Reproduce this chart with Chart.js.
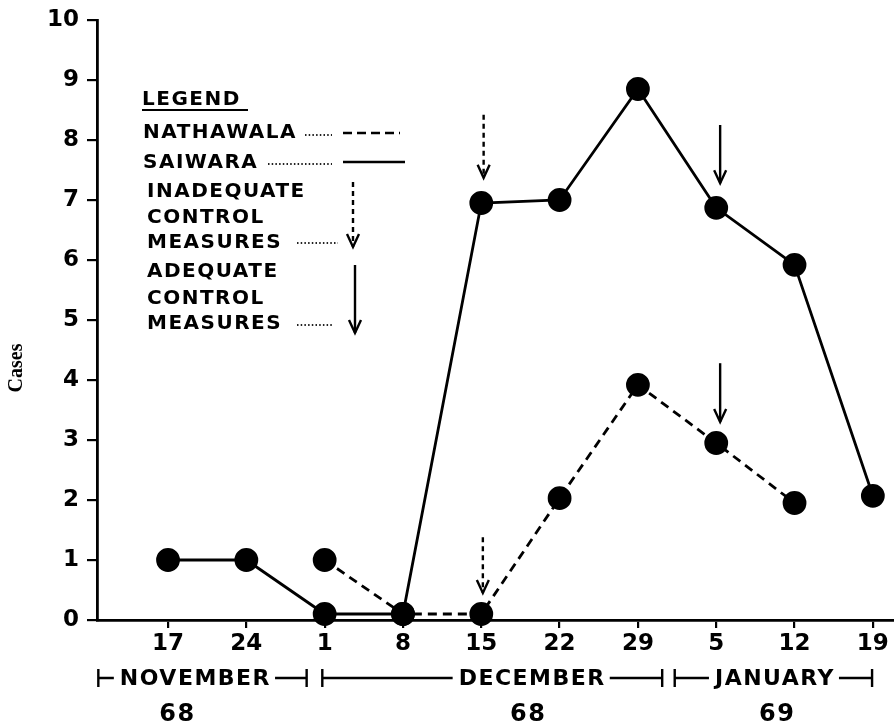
<!DOCTYPE html>
<html lang="en">
<head>
<meta charset="UTF-8">
<title>Cases - Nathawala and Saiwara</title>
<script src="https://cdn.jsdelivr.net/npm/chart.js"></script>
<style>
    body { margin: 0; background: #fff; }
    #chart { display: block; }
</style>
</head>
<body>
<canvas id="chart" width="894" height="725"></canvas>
<script>
// week labels (Nov 68 - Jan 69)
const xLabels = ['17', '24', '1', '8', '15', '22', '29', '5', '12', '19'];
// cases per week
const saiwara   = [1, 1, 0.1, 0.1, 6.95, 7, 8.85, 6.87, 5.92, 2.07];
const nathawala = [null, null, 1, 0.1, 0.1, 2.03, 3.92, 2.95, 1.95, null];

// month brackets under the axis (in week-index units)
const months     = ['NOVEMBER', 'DECEMBER', 'JANUARY'];
const monthStart = [-0.89, 1.97, 6.47];
const monthEnd   = [1.77, 6.31, 8.99];
const monthMid   = [0.35, 4.65, 7.75];
const years      = ['68', '68', '69'];
const yearAt     = [0.12, 4.6, 7.78];

// control measure arrows
const arrowX      = [4.03, 7.05, 4.02, 7.05];
const arrowTop    = [8.42, 8.25, 1.38, 4.28];
const arrowBottom = [7.37, 7.28, 0.45, 3.3];
const arrowDashed = [true, false, true, false];

const FONT = '"DejaVu Sans", sans-serif';

function toPoints(arr) {
    return arr.map((y, i) => ({ x: i, y: y })).filter(p => p.y !== null);
}

function drawArrow(ctx, x, y1, y2, dashed) {
    ctx.save();
    ctx.strokeStyle = '#000';
    ctx.lineWidth = 2.4;
    ctx.setLineDash(dashed ? [5, 4] : []);
    ctx.beginPath();
    ctx.moveTo(x, y1);
    ctx.lineTo(x, y2);
    ctx.stroke();
    ctx.setLineDash([]);
    ctx.beginPath();
    ctx.moveTo(x - 6, y2 - 13);
    ctx.lineTo(x, y2);
    ctx.lineTo(x + 6, y2 - 13);
    ctx.stroke();
    ctx.restore();
}

function dots(ctx, x1, x2, y) {
    ctx.save();
    ctx.strokeStyle = '#222';
    ctx.lineWidth = 1.8;
    ctx.setLineDash([1.5, 2.2]);
    ctx.beginPath();
    ctx.moveTo(x1, y);
    ctx.lineTo(x2, y);
    ctx.stroke();
    ctx.restore();
}

const extras = {
    id: 'extras',
    afterDraw(chart) {
        const ctx = chart.ctx;
        const xs = chart.scales.x, ys = chart.scales.y;
        ctx.save();
        ctx.fillStyle = '#000';
        ctx.strokeStyle = '#000';
        ctx.textBaseline = 'middle';
        ctx.letterSpacing = '1.5px';

        // legend block
        ctx.font = 'bold 20px ' + FONT;
        ctx.textAlign = 'left';
        ctx.fillText('LEGEND', 142, 100);
        ctx.lineWidth = 2.2;
        ctx.beginPath(); ctx.moveTo(142, 110); ctx.lineTo(248, 110); ctx.stroke();

        ctx.fillText('NATHAWALA', 143, 133);
        dots(ctx, 305, 332, 135);
        ctx.lineWidth = 2.6;
        ctx.setLineDash([9, 5]);
        ctx.beginPath(); ctx.moveTo(343, 133); ctx.lineTo(400, 133); ctx.stroke();
        ctx.setLineDash([]);

        ctx.fillText('SAIWARA', 143, 163);
        dots(ctx, 268, 332, 164);
        ctx.lineWidth = 2.6;
        ctx.beginPath(); ctx.moveTo(343, 162); ctx.lineTo(405, 162); ctx.stroke();

        ctx.fillText('INADEQUATE', 147, 192);
        ctx.fillText('CONTROL', 147, 218);
        ctx.fillText('MEASURES', 147, 243);
        dots(ctx, 297, 338, 243);
        drawArrow(ctx, 353, 182, 247, true);

        ctx.fillText('ADEQUATE', 147, 272);
        ctx.fillText('CONTROL', 147, 299);
        ctx.fillText('MEASURES', 147, 324);
        dots(ctx, 297, 334, 325);
        drawArrow(ctx, 355, 265, 333, false);

        // arrows on the plot
        for (let i = 0; i < arrowX.length; i++) {
            drawArrow(ctx, xs.getPixelForValue(arrowX[i]),
                ys.getPixelForValue(arrowTop[i]),
                ys.getPixelForValue(arrowBottom[i]), arrowDashed[i]);
        }

        // month brackets
        ctx.font = 'bold 22px ' + FONT;
        ctx.textAlign = 'center';
        ctx.lineWidth = 2.4;
        const my = 678;
        for (let i = 0; i < months.length; i++) {
            const x1 = xs.getPixelForValue(monthStart[i]);
            const x2 = xs.getPixelForValue(monthEnd[i]);
            const xm = xs.getPixelForValue(monthMid[i]);
            const w = ctx.measureText(months[i]).width;
            ctx.fillText(months[i], xm, my + 1);
            ctx.beginPath();
            ctx.moveTo(x1, my - 9); ctx.lineTo(x1, my + 9);
            ctx.moveTo(x1, my); ctx.lineTo(xm - w / 2 - 6, my);
            ctx.moveTo(xm + w / 2 + 4, my); ctx.lineTo(x2, my);
            ctx.moveTo(x2, my - 9); ctx.lineTo(x2, my + 9);
            ctx.stroke();
        }
        ctx.font = 'bold 24px ' + FONT;
        for (let i = 0; i < years.length; i++) {
            ctx.fillText(years[i], xs.getPixelForValue(yearAt[i]), 715);
        }

        // y axis title
        ctx.letterSpacing = '0px';
        ctx.translate(17, 368);
        ctx.rotate(-Math.PI / 2);
        ctx.font = 'bold 20px "Liberation Serif", serif';
        ctx.fillText('Cases', 0, 0);
        ctx.restore();
    }
};

new Chart(document.getElementById('chart'), {
    type: 'line',
    data: {
        datasets: [{
            label: 'SAIWARA',
            data: toPoints(saiwara),
            borderColor: '#000',
            backgroundColor: '#000',
            borderWidth: 2.8,
            pointRadius: 10.5,
            pointHoverRadius: 10.5,
            tension: 0,
            clip: false
        }, {
            label: 'NATHAWALA',
            data: toPoints(nathawala),
            borderColor: '#000',
            backgroundColor: '#000',
            borderWidth: 2.8,
            borderDash: [9, 6],
            pointRadius: 10.5,
            pointHoverRadius: 10.5,
            tension: 0,
            clip: false
        }]
    },
    options: {
        responsive: false,
        animation: false,
        layout: { autoPadding: false, padding: { top: 20, right: 0, left: 0, bottom: 0 } },
        plugins: {
            legend: { display: false },
            tooltip: { enabled: false }
        },
        scales: {
            x: {
                type: 'linear',
                min: -0.907,
                max: 9.27,
                afterBuildTicks: s => { s.ticks = xLabels.map((_, i) => ({ value: i })); },
                afterFit: s => { s.height = 105; s.paddingLeft = 0; s.paddingRight = 0; },
                ticks: {
                    callback: v => xLabels[v],
                    color: '#000',
                    font: { family: FONT, size: 23, weight: 'bold' },
                    padding: 2,
                    maxRotation: 0,
                    autoSkip: false
                },
                grid: { drawOnChartArea: false, drawTicks: true, tickLength: 8, color: '#000', lineWidth: 2.2 },
                border: { color: '#000', width: 2.8 }
            },
            y: {
                min: 0,
                max: 10,
                afterFit: s => { s.width = 97; s.paddingTop = 0; s.paddingBottom = 0; },
                ticks: {
                    stepSize: 1,
                    color: '#000',
                    font: { family: FONT, size: 23, weight: 'bold' },
                    padding: 8
                },
                grid: { drawOnChartArea: false, drawTicks: true, tickLength: 10, color: '#000', lineWidth: 2.2 },
                border: { color: '#000', width: 2.8 }
            }
        }
    },
    plugins: [extras]
});
</script>
</body>
</html>
